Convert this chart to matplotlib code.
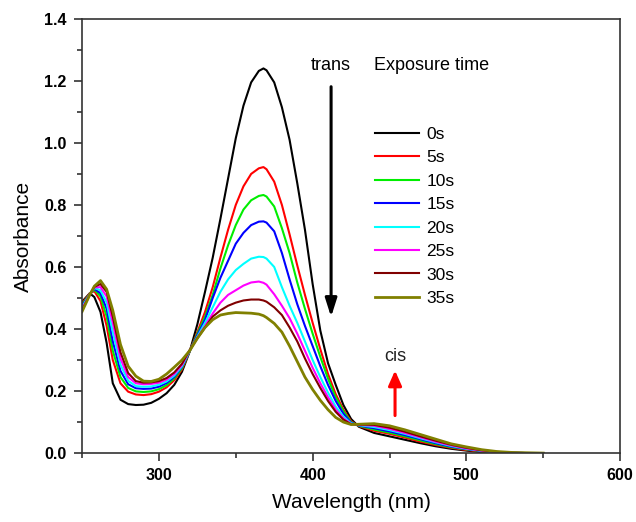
import numpy as np
import matplotlib
matplotlib.use('Agg')
import matplotlib.pyplot as plt
from matplotlib.ticker import MultipleLocator

plt.rcParams['font.family'] = ['Liberation Sans', 'DejaVu Sans']

# wavelength grid (nm)
wl = [250, 255, 258, 262, 266, 270, 275, 280, 285, 290, 295, 300, 305, 310, 315,
      320, 325, 330, 335, 340, 345, 350, 355, 360, 365, 368, 370, 375, 380, 385, 390,
      395, 400, 405, 410, 415, 420, 425, 430, 440, 450, 460, 470, 480, 490, 500,
      510, 520, 530, 540, 550]

# absorbance, one list per exposure time
a_0s = [0.488, 0.515, 0.503, 0.455, 0.355, 0.225, 0.172, 0.158, 0.155, 0.156, 0.162,
        0.175, 0.193, 0.220, 0.262, 0.327, 0.415, 0.520, 0.630, 0.755, 0.885, 1.015,
        1.120, 1.195, 1.232, 1.240, 1.234, 1.195, 1.115, 1.010, 0.870, 0.720, 0.545, 0.395,
        0.290, 0.220, 0.155, 0.110, 0.085, 0.065, 0.054, 0.043, 0.032, 0.022, 0.014,
        0.008, 0.003, 0.001, 0.0, 0.0, 0.0]
a_5s = [0.482, 0.515, 0.522, 0.490, 0.410, 0.300, 0.225, 0.198, 0.189, 0.187, 0.190,
        0.198, 0.212, 0.235, 0.270, 0.328, 0.390, 0.455, 0.535, 0.630, 0.720, 0.800,
        0.860, 0.900, 0.918, 0.922, 0.915, 0.875, 0.800, 0.705, 0.605, 0.510, 0.420, 0.335,
        0.255, 0.190, 0.140, 0.103, 0.087, 0.072, 0.062, 0.050, 0.037, 0.026, 0.017,
        0.010, 0.005, 0.002, 0.0, 0.0, 0.0]
a_10s = [0.478, 0.513, 0.527, 0.505, 0.440, 0.330, 0.245, 0.210, 0.199, 0.197, 0.199,
         0.206, 0.219, 0.241, 0.274, 0.328, 0.385, 0.440, 0.510, 0.595, 0.670, 0.735,
         0.785, 0.815, 0.829, 0.832, 0.827, 0.795, 0.725, 0.645, 0.550, 0.465, 0.385, 0.310,
         0.240, 0.180, 0.135, 0.100, 0.088, 0.076, 0.066, 0.054, 0.041, 0.029, 0.019,
         0.012, 0.006, 0.002, 0.0, 0.0, 0.0]
a_15s = [0.474, 0.512, 0.530, 0.515, 0.465, 0.360, 0.265, 0.222, 0.209, 0.207, 0.208,
         0.214, 0.226, 0.246, 0.278, 0.329, 0.380, 0.430, 0.500, 0.565, 0.620, 0.675,
         0.710, 0.735, 0.746, 0.747, 0.743, 0.715, 0.645, 0.560, 0.480, 0.410, 0.345, 0.280,
         0.220, 0.168, 0.127, 0.098, 0.089, 0.080, 0.070, 0.058, 0.045, 0.032, 0.021,
         0.013, 0.007, 0.003, 0.001, 0.0, 0.0]
a_20s = [0.470, 0.512, 0.532, 0.525, 0.485, 0.390, 0.285, 0.233, 0.216, 0.214, 0.215,
         0.220, 0.231, 0.250, 0.280, 0.330, 0.375, 0.420, 0.470, 0.520, 0.560, 0.590,
         0.610, 0.627, 0.633, 0.632, 0.627, 0.600, 0.535, 0.475, 0.420, 0.360, 0.300, 0.245,
         0.195, 0.150, 0.118, 0.096, 0.090, 0.084, 0.074, 0.062, 0.048, 0.035, 0.023,
         0.014, 0.008, 0.003, 0.001, 0.0, 0.0]
a_25s = [0.466, 0.511, 0.534, 0.535, 0.505, 0.420, 0.305, 0.245, 0.225, 0.222, 0.223,
         0.227, 0.237, 0.255, 0.284, 0.331, 0.372, 0.410, 0.450, 0.485, 0.510, 0.525,
         0.540, 0.550, 0.553, 0.549, 0.543, 0.512, 0.475, 0.435, 0.385, 0.330, 0.275, 0.225,
         0.180, 0.140, 0.112, 0.094, 0.091, 0.088, 0.078, 0.065, 0.051, 0.037, 0.025,
         0.015, 0.008, 0.003, 0.001, 0.0, 0.0]
a_30s = [0.461, 0.510, 0.536, 0.545, 0.520, 0.440, 0.325, 0.258, 0.232, 0.227, 0.228,
         0.232, 0.242, 0.260, 0.288, 0.332, 0.370, 0.405, 0.440, 0.460, 0.475, 0.485,
         0.492, 0.495, 0.495, 0.492, 0.488, 0.470, 0.445, 0.405, 0.360, 0.305, 0.255, 0.210,
         0.168, 0.133, 0.108, 0.093, 0.092, 0.091, 0.082, 0.069, 0.054, 0.040, 0.027,
         0.017, 0.009, 0.004, 0.001, 0.0, 0.0]
a_35s = [0.456, 0.510, 0.538, 0.556, 0.528, 0.460, 0.350, 0.280, 0.248, 0.232, 0.231,
         0.238, 0.255, 0.277, 0.300, 0.330, 0.370, 0.405, 0.430, 0.445, 0.450, 0.453,
         0.452, 0.451, 0.448, 0.443, 0.437, 0.418, 0.390, 0.345, 0.295, 0.245, 0.205, 0.170,
         0.140, 0.115, 0.100, 0.092, 0.093, 0.095, 0.088, 0.075, 0.060, 0.045, 0.030,
         0.020, 0.011, 0.005, 0.002, 0.001, 0.0]

labels = ['0s', '5s', '10s', '15s', '20s', '25s', '30s', '35s']
colors = ['#000000', '#ff0000', '#00ee00', '#0000ff', '#00ffff', '#ff00ff', '#800000', '#808000']
series = [a_0s, a_5s, a_10s, a_15s, a_20s, a_25s, a_30s, a_35s]

fig = plt.figure(figsize=(6.36, 5.22), dpi=100)
ax = fig.add_axes([0.129, 0.132, 0.846, 0.832])

for y, c, lab in zip(series, colors, labels):
    lw = 2.0 if lab == '35s' else 1.5
    ax.plot(wl, y, color=c, lw=lw, label=lab)

ax.set_xlim(250, 600)
ax.set_ylim(0, 1.4)
ax.xaxis.set_major_locator(MultipleLocator(100))
ax.xaxis.set_minor_locator(MultipleLocator(50))
ax.yaxis.set_major_locator(MultipleLocator(0.2))
ax.yaxis.set_minor_locator(MultipleLocator(0.1))
ax.yaxis.set_major_formatter(plt.FormatStrFormatter('%.1f'))

ax.tick_params(which='both', direction='out', top=False, right=False, width=1.2, color='#333333')
ax.tick_params(which='major', length=6, labelsize=11.5, pad=5)
ax.tick_params(which='minor', length=3.5)
for t in ax.get_xticklabels() + ax.get_yticklabels():
    t.set_fontweight('bold')
for s in ax.spines.values():
    s.set_linewidth(1.2)
    s.set_color('#333333')

ax.set_xlabel('Wavelength (nm)', fontsize=15, labelpad=7)
ax.set_ylabel('Absorbance', fontsize=15, labelpad=8)

# annotations
ax.text(412, 1.235, 'trans', fontsize=13, ha='center', va='baseline')
ax.text(440, 1.235, 'Exposure time', fontsize=13, ha='left', va='baseline')
ax.annotate('', xy=(412, 0.43), xytext=(412, 1.19),
            arrowprops=dict(arrowstyle='-|>,head_width=0.35,head_length=1.1',
                            color='black', lw=2.2))
ax.text(453.6, 0.298, 'cis', fontsize=13, ha='center', va='baseline', color='#222222')
ax.annotate('', xy=(453.6, 0.275), xytext=(453.6, 0.112),
            arrowprops=dict(arrowstyle='-|>,head_width=0.4,head_length=0.9',
                            color='red', lw=2.2))

ax.legend(loc='upper left', bbox_to_anchor=(0.545, 0.752), frameon=False,
          fontsize=12.5, handlelength=2.5, handletextpad=0.45, labelspacing=0.48,
          borderpad=0, borderaxespad=0)

fig.savefig('out.png', dpi=100)
